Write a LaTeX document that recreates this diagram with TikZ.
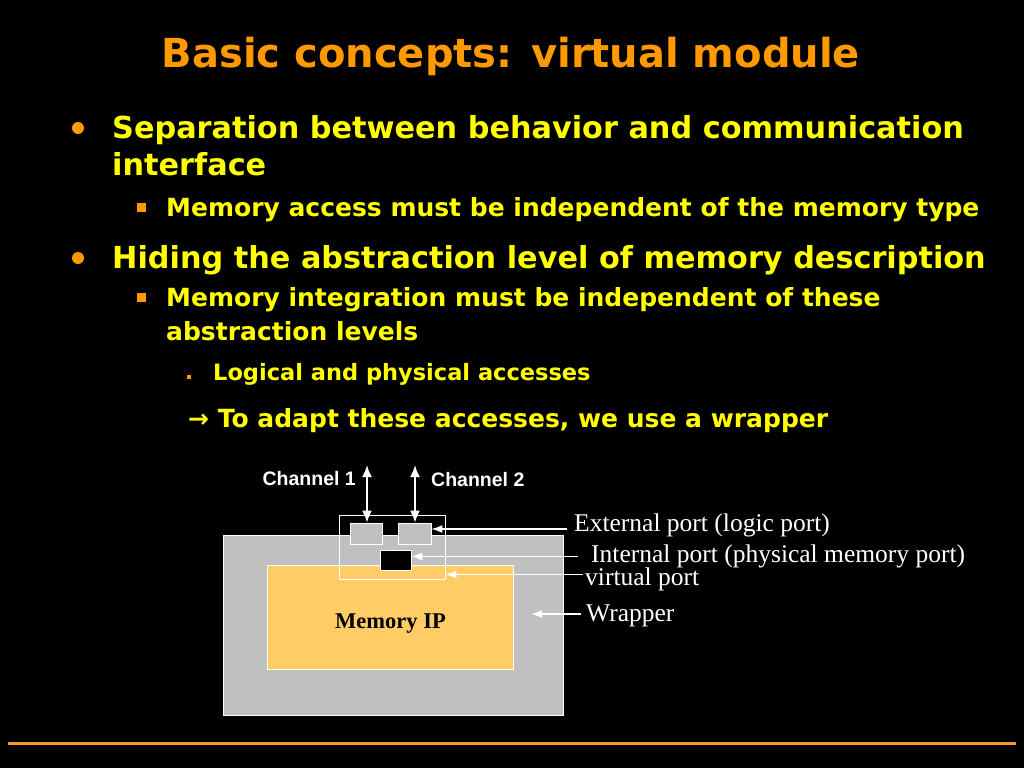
\documentclass[tikz,border=0pt]{standalone}
\usepackage{fontspec}
\setmainfont{DejaVu Sans}
\newfontfamily\arialfont{Liberation Sans}
\newfontfamily\timesfont{Liberation Serif}
\usetikzlibrary{positioning,arrows,arrows.meta,shapes}
\definecolor{slideorange}{HTML}{FF9900}
\definecolor{slideyellow}{HTML}{FFFF00}
\definecolor{wrapgrey}{HTML}{C0C0C0}
\definecolor{memyellow}{HTML}{FFCC66}
\definecolor{lineorange}{HTML}{F29B1D}
\tikzset {
    title text/.style={
        text=slideorange,
        font=\fontsize{40}{46}\selectfont\bfseries,
        inner sep=0pt,
    },
    level one/.style={
        text=slideyellow,
        anchor=base west,
        inner sep=0pt,
        align=left,
        font=\fontsize{30.3}{37}\selectfont\bfseries,
    },
    level two/.style={
        level one,
        font=\fontsize{25}{34}\selectfont\bfseries,
    },
    level three/.style={
        level one,
        font=\fontsize{22.5}{26}\selectfont\bfseries,
    },
    dot bullet/.style={
        circle, % round bullet
        fill=slideorange,
        inner sep=0pt,
        minimum size=12pt,
    },
    square bullet/.style={
        rectangle, % square bullet
        fill=slideorange,
        inner sep=0pt,
        minimum size=9pt,
    },
    tiny bullet/.style={
        square bullet,
        minimum size=4pt,
    },
    block/.style={
        rectangle,
        draw=white,
        line width=0.8pt,
        inner sep=0pt,
    },
    channel text/.style={
        text=white,
        font=\arialfont\fontsize{19.5}{22}\selectfont\bfseries,
        inner sep=0pt,
    },
    port text/.style={
        text=white,
        anchor=west,
        font=\timesfont\fontsize{25.5}{28}\selectfont,
        inner sep=0pt,
    },
    pointer/.style={draw=white, line width=1.3pt, -{Latex[length=11pt,width=8pt]}},
    channel/.style={draw=white, line width=1.8pt, {Latex[length=12pt,width=10pt]}-{Latex[length=12pt,width=10pt]}},
}
\begin{document}
\begin{tikzpicture}[x=1pt, y=-1pt]
    \fill[black] (0,0) rectangle (1024,768);

    \node[title text] (title) at (511,56) {Basic concepts: virtual module};

    % bullet list (multi-line nodes sit on their last baseline)
    \node[dot bullet] (b1) at (78,128) {};
    \node[level one] (t1) at (112,175) {Separation between behavior and communication\\interface};
    \node[square bullet] (b11) at (141,207) {};
    \node[level two] (t11) at (166,216) {Memory access must be independent of the memory type};
    \node[dot bullet] (b2) at (78,258) {};
    \node[level one] (t2) at (112,268) {Hiding the abstraction level of memory description};
    \node[square bullet] (b21) at (141,297) {};
    \node[level two] (t21) at (166,340) {Memory integration must be independent of these\\abstraction levels};
    \node[tiny bullet] (b211) at (189,377) {};
    \node[level three] (t211) at (213,380) {Logical and physical accesses};
    \node[level two] (wrapnote) at (188,427) {→ To adapt these accesses, we use a wrapper};

    % virtual module
    \node[block, fill=wrapgrey, minimum width=340pt, minimum height=180pt] (wrapper) at (393,625) {};
    \node[block, fill=memyellow, minimum width=246pt, minimum height=104pt, text height=27pt,
          font=\timesfont\fontsize{22.5}{26}\selectfont\bfseries] (mem) at (390.5,617) {Memory IP};
    \node[block, minimum width=106pt, minimum height=64pt] (vport) at (392,547) {};
    \node[block, fill=wrapgrey, minimum width=32pt, minimum height=21pt] (ext1) at (366.5,533.5) {};
    \node[block, fill=wrapgrey, minimum width=33pt, minimum height=21pt] (ext2) at (414.5,533.5) {};
    \node[block, fill=black, minimum width=31pt, minimum height=20pt] (intp) at (395.5,560.5) {};

    \coordinate (ch1) at (367,465);
    \coordinate (ch2) at (415,465);
    \draw[channel] (ch1) -- (ch1 |- ext1.north);
    \draw[channel] (ch2) -- (ch2 |- ext2.north);
    \node[channel text, anchor=east] (ch1text) at (356,479) {Channel 1};
    \node[channel text, anchor=west] (ch2text) at (431,480) {Channel 2};

    % port labels
    \node[port text] (extlabel) at (574,525) {External port (logic port)};
    \node[port text] (intlabel) at (591,556) {Internal port (physical memory port)};
    \node[port text] (vlabel) at (585,579) {virtual port};
    \node[port text] (wlabel) at (586,616) {Wrapper};
    \coordinate (extfrom) at (567,529);
    \coordinate (intfrom) at (578,556.5);
    \coordinate (vfrom) at (583,574.5);
    \coordinate (wfrom) at (581,614);
    \draw[pointer] (extfrom) -- (ext2.east |- extfrom);
    \draw[pointer] (intfrom) -- (intp.east |- intfrom);
    \draw[pointer] (vfrom) -- (vport.east |- vfrom);
    \draw[pointer] (wfrom) -- (531,614);

    \draw[lineorange, line width=3pt] (8,743) -- (1016,743);
\end{tikzpicture}
\end{document}
